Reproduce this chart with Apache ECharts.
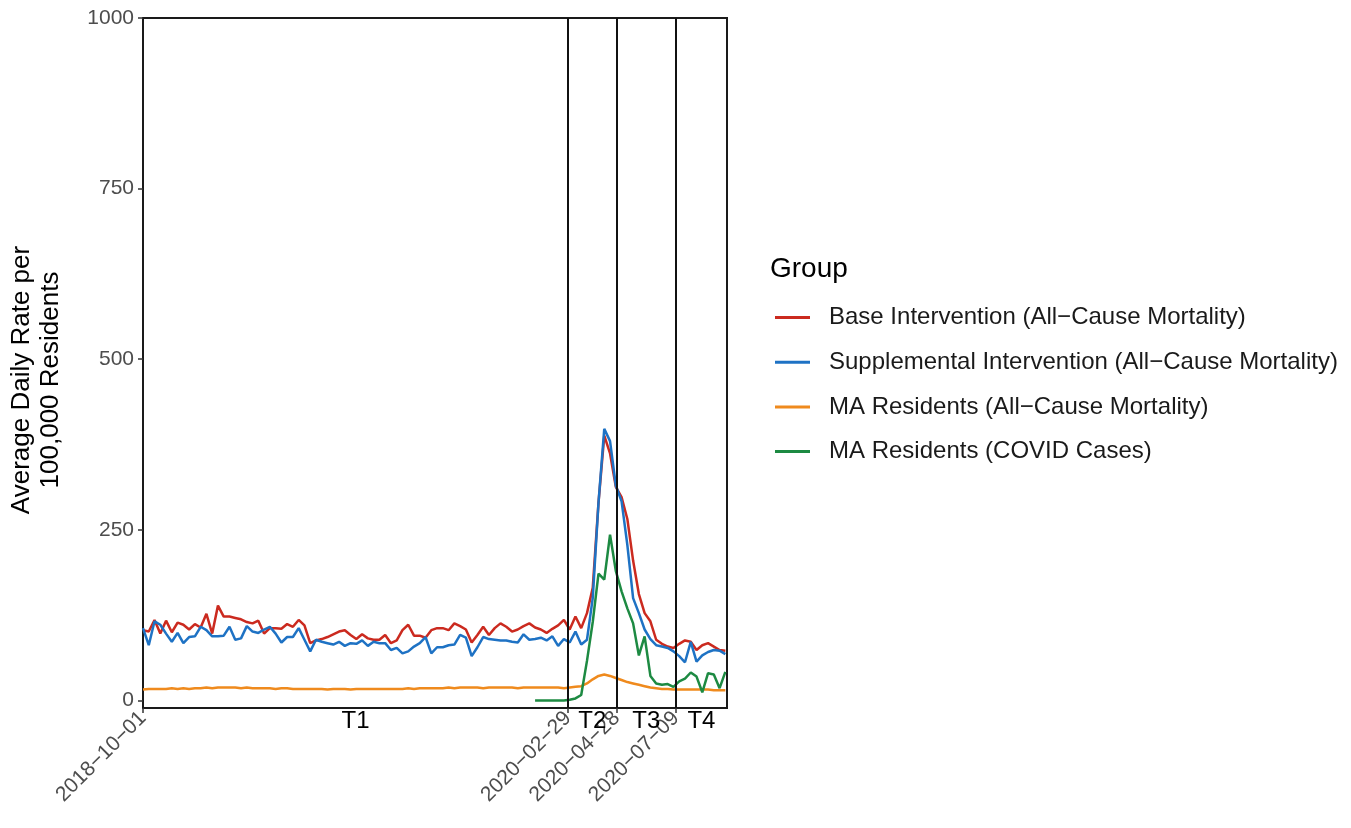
<!DOCTYPE html>
<html>
<head>
<meta charset="utf-8">
<script src="https://cdn.jsdelivr.net/npm/echarts@6/dist/echarts.min.js"></script>
<style>
html,body{margin:0;padding:0;background:#fff;}
#chart{width:1351px;height:828px;}
</style>
</head>
<body>
<div id="chart"></div>
<script>
// ---- data (weekly) ----
const dates = [
'2018-10-01','2018-10-08','2018-10-15','2018-10-22','2018-10-29','2018-11-05','2018-11-12','2018-11-19','2018-11-26','2018-12-03',
'2018-12-10','2018-12-17','2018-12-24','2018-12-31','2019-01-07','2019-01-14','2019-01-21','2019-01-28','2019-02-04','2019-02-11',
'2019-02-18','2019-02-25','2019-03-04','2019-03-11','2019-03-18','2019-03-25','2019-04-01','2019-04-08','2019-04-15','2019-04-22',
'2019-04-29','2019-05-06','2019-05-13','2019-05-20','2019-05-27','2019-06-03','2019-06-10','2019-06-17','2019-06-24','2019-07-01',
'2019-07-08','2019-07-15','2019-07-22','2019-07-29','2019-08-05','2019-08-12','2019-08-19','2019-08-26','2019-09-02','2019-09-09',
'2019-09-16','2019-09-23','2019-09-30','2019-10-07','2019-10-14','2019-10-21','2019-10-28','2019-11-04','2019-11-11','2019-11-18',
'2019-11-25','2019-12-02','2019-12-09','2019-12-16','2019-12-23','2019-12-30','2020-01-06','2020-01-13','2020-01-20','2020-01-27',
'2020-02-03','2020-02-10','2020-02-17','2020-02-24','2020-03-02','2020-03-09','2020-03-16','2020-03-23','2020-03-30','2020-04-06',
'2020-04-13','2020-04-20','2020-04-27','2020-05-04','2020-05-11','2020-05-18','2020-05-25','2020-06-01','2020-06-08','2020-06-15',
'2020-06-22','2020-06-29','2020-07-06','2020-07-13','2020-07-20','2020-07-27','2020-08-03','2020-08-10','2020-08-17','2020-08-24',
'2020-08-31','2020-09-07'
];
const baseIntervention = [
103,101,118,98,117,100,114,111,104,112,
107,127,98,139,123,123,121,119,115,113,
117,98,106,106,105,112,108,118,110,84,
88,90,93,97,101,103,96,90,97,91,
89,89,96,84,88,103,111,95,95,92,
103,106,106,103,113,109,104,85,96,108,
96,106,113,108,101,104,109,113,107,104,
99,105,110,118,104,123,106,128,165,290,
388,362,313,298,266,205,156,128,116,89,
83,79,77,83,88,86,74,81,84,79,
74,73
];
const supplementalIntervention = [
106,81,116,111,98,86,99,84,93,94,
108,103,94,94,95,108,89,91,109,101,
99,104,108,98,85,93,93,106,89,72,
89,86,84,82,86,80,84,83,88,80,
86,84,84,74,77,69,72,79,84,93,
69,78,78,81,82,96,92,65,78,93,
90,89,88,88,86,85,97,89,90,92,
88,94,80,90,85,101,82,89,150,290,
398,380,315,292,228,150,128,104,90,81,
79,77,72,65,56,86,57,66,71,74,
73,68
];
const maMortality = [
16,17,17,17,17,18,17,18,17,18,
18,19,18,19,19,19,19,18,19,18,
18,18,18,17,18,18,17,17,17,17,
17,17,16,17,17,17,16,17,17,17,
17,17,17,17,17,17,18,17,18,18,
18,18,18,19,18,19,19,19,19,18,
19,19,19,19,19,18,19,19,19,19,
19,19,19,18,19,20,21,25,31,36,
38,36,33,30,27,25,23,21,19,18,
17,17,16,16,16,16,16,16,16,15,
15,15
];
const covidStart = '2020-01-20';
const maCovidCases = [
0,0,0,0,0,0,1,3,8,58,
115,186,177,243,190,160,135,113,66,94,
36,25,23,24,20,28,32,41,35,12,
40,38,18,42
];
const seriesNames = [
'Base Intervention (All\u2212Cause Mortality)',
'Supplemental Intervention (All\u2212Cause Mortality)',
'MA Residents (All\u2212Cause Mortality)',
'MA Residents (COVID Cases)'
];
const seriesColors = ['#cb2a1f','#1e72c4','#ef8a1d','#1d8a42'];
const xStart = '2018-10-01';
const xEnd = '2020-09-09';
const periodBreaks = ['2020-02-29','2020-04-28','2020-07-09'];
const periodLabels = ['T1','T2','T3','T4'];
const yTicks = [0,250,500,750,1000];

// ---- helpers ----
function ts(s){const p=s.split('-').map(Number);return new Date(p[0],p[1]-1,p[2]).getTime();}
function pad(n){return (n<10?'0':'')+n;}
function fmt(v){const d=new Date(v);return d.getFullYear()+'\u2212'+pad(d.getMonth()+1)+'\u2212'+pad(d.getDate());}
function pairs(ds,vals){return vals.map((v,i)=>[ts(ds[i]),v]);}

const covidIdx = dates.indexOf(covidStart);
const covidDates = dates.slice(covidIdx, covidIdx + maCovidCases.length);
const xTickValues = [xStart].concat(periodBreaks).map(ts);
const bounds = [xStart].concat(periodBreaks).concat([xEnd]);
const areaData = periodLabels.map((lab,i)=>[{xAxis: ts(bounds[i]), name: lab},{xAxis: ts(bounds[i+1])}]);

const FONT = 'Liberation Sans, Arial, sans-serif';
const chart = echarts.init(document.getElementById('chart'), null, {renderer:'canvas'});

function lineSeries(name, color, data, extra){
  return Object.assign({
    name: name, type: 'line', data: data, showSymbol: false, symbol: 'none',
    lineStyle: {color: color, width: 2.5}, itemStyle: {color: color},
    clip: false, animation: false, z: 3
  }, extra || {});
}

const option = {
  animation: false,
  backgroundColor: '#ffffff',
  textStyle: {fontFamily: FONT},
  title: {
    text: 'Group', left: 770, top: 255, padding: 0,
    textStyle: {fontFamily: FONT, fontSize: 28, fontWeight: 'normal', color: '#000'}
  },
  legend: {
    orient: 'vertical', left: 775, top: 304, padding: 0,
    icon: 'rect', itemWidth: 35, itemHeight: 3, itemGap: 17.7,
    textStyle: {fontFamily: FONT, fontSize: 24, color: '#1a1a1a', lineHeight: 27, padding: [0,0,0,14]},
    data: seriesNames
  },
  graphic: [{
    type: 'text', x: 36, y: 380, rotation: Math.PI/2,
    style: {
      text: 'Average Daily Rate per\n100,000 Residents',
      fontFamily: FONT, fontSize: 26, lineHeight: 29,
      fill: '#000', align: 'center', verticalAlign: 'middle'
    }
  }],
  grid: {
    left: 143, right: 624, top: 18, bottom: 120,
    containLabel: false, outerBoundsMode: 'none',
    show: true, borderColor: '#1a1a1a', borderWidth: 2, backgroundColor: 'transparent'
  },
  xAxis: {
    type: 'value', min: ts(xStart), max: ts(xEnd), scale: true,
    axisLine: {show: true, onZero: false, lineStyle: {color: '#1a1a1a', width: 2}},
    axisTick: {show: true, length: 5, customValues: xTickValues, lineStyle: {color: '#333', width: 1.5}},
    axisLabel: {
      show: true, customValues: xTickValues, rotate: 45, margin: 7,
      fontFamily: FONT, fontSize: 21, color: '#4d4d4d',
      formatter: function(v){return fmt(v);}
    },
    splitLine: {show: false}, minorTick: {show: false}
  },
  yAxis: {
    type: 'value', min: -11, max: 1000,
    axisLine: {show: true, onZero: false, lineStyle: {color: '#1a1a1a', width: 2}},
    axisTick: {show: true, length: 5, customValues: yTicks, lineStyle: {color: '#333', width: 1.5}},
    axisLabel: {show: true, customValues: yTicks, margin: 9, fontFamily: FONT, fontSize: 21, color: '#4d4d4d',
      formatter: function(v){return String(v);}},
    splitLine: {show: false}
  },
  series: [
    lineSeries(seriesNames[0], seriesColors[0], pairs(dates, baseIntervention)),
    lineSeries(seriesNames[1], seriesColors[1], pairs(dates, supplementalIntervention)),
    lineSeries(seriesNames[2], seriesColors[2], pairs(dates, maMortality), {
      markLine: {
        silent: true, symbol: ['none','none'], animation: false,
        label: {show: false},
        lineStyle: {color: '#111', width: 2, type: 'solid'},
        data: periodBreaks.map(d => ({xAxis: ts(d)}))
      },
      markArea: {
        silent: true, animation: false,
        itemStyle: {color: 'rgba(0,0,0,0)'},
        label: {show: true, position: 'bottom', distance: 1, color: '#000', fontFamily: FONT, fontSize: 24},
        data: areaData
      }
    }),
    lineSeries(seriesNames[3], seriesColors[3], pairs(covidDates, maCovidCases))
  ]
};
chart.setOption(option);
</script>
</body>
</html>
